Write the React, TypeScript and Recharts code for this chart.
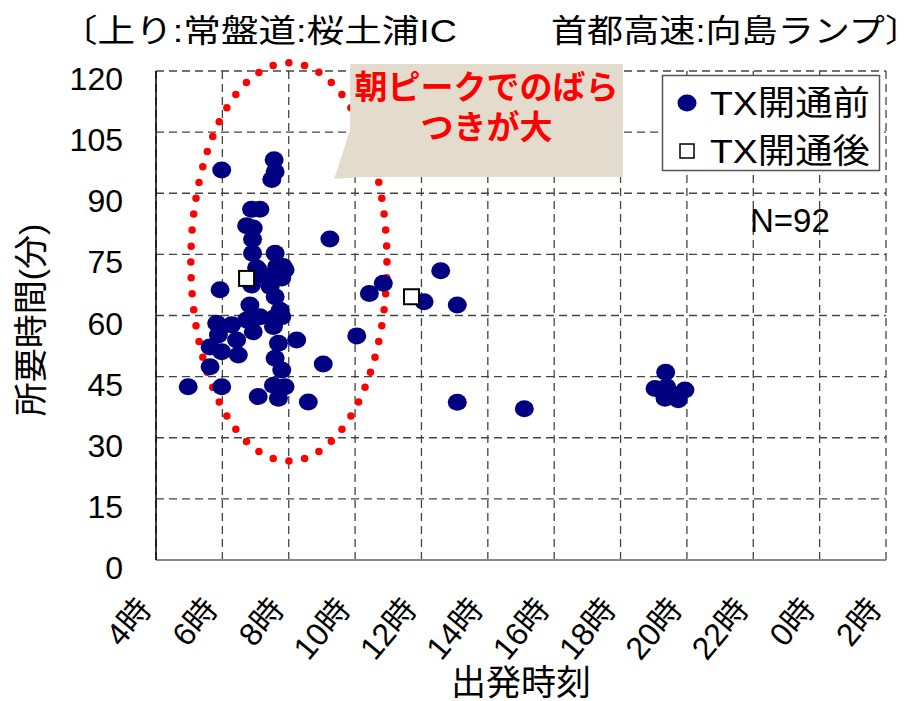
import React from 'react';
import { ScatterChart, Scatter, XAxis, YAxis, CartesianGrid, ReferenceArea } from 'recharts';

const FONT = '"Liberation Sans", "Noto Sans CJK JP", sans-serif';
const NAVY = '#000080';

const xTicks = [4, 6, 8, 10, 12, 14, 16, 18, 20, 22, 24, 26];
const yTicks = [0, 15, 30, 45, 60, 75, 90, 105, 120];

const titleLeft = '〔上り:常盤道:桜土浦IC';
const titleRight = '首都高速:向島ランプ〕';
const xLabel = '出発時刻';
const yLabel = '所要時間(分)';
const seriesBefore = 'TX開通前';
const seriesAfter = 'TX開通後';
const countLabel = 'N=92';
const calloutLines = ['朝ピークでのばら', 'つきが大'];

// departure hour (4 = 4時 ... 24 = 0時, 26 = 2時)
const beforeHour = [
  4.97, 5.98, 7.56, 7.59, 7.49, 6.88, 7.13, 6.73, 6.93, 6.91,
  6.91, 7.59, 7.03, 7.83, 7.64, 7.89, 7.74, 7.22, 6.88, 7.44,
  5.93, 7.59, 6.83, 7.74, 7.54, 7.13, 6.73, 6.28, 5.83, 6.93,
  7.54, 5.88, 6.43, 7.69, 8.24, 5.63, 5.98, 6.48, 7.59, 7.79,
  5.63, 5.98, 7.54, 7.89, 7.08, 7.69, 8.59, 9.04, 10.05, 9.24,
  10.43, 10.85, 12.08, 12.58, 13.08, 13.08, 15.1, 19.36, 19.04, 19.34,
  19.74, 19.94, 19.39, 19.53, 7.79, 7.08, 7.79,
];
// travel time in minutes
const beforeMin = [
  42.5, 95.7, 98.2, 95.3, 93.4, 86.1, 86.1, 82.0, 81.5, 78.7,
  75.3, 75.3, 71.7, 72.0, 72.0, 71.2, 69.9, 69.9, 67.5, 67.1,
  66.3, 64.6, 62.6, 61.3, 59.3, 59.7, 58.9, 57.7, 58.1, 56.0,
  57.3, 55.2, 54.0, 53.2, 54.0, 52.3, 51.1, 50.3, 49.5, 46.6,
  47.4, 42.5, 42.9, 42.5, 40.1, 39.7, 38.8, 48.1, 55.0, 78.8,
  65.4, 67.9, 63.4, 71.0, 62.6, 38.7, 37.1, 46.1, 42.1, 39.7,
  39.3, 41.7, 42.5, 40.5, 69.2, 71.2, 59.7,
];
const afterHour = [6.73, 11.7];
const afterMin = [69.1, 64.6];

// annotation extents in data units
const ellipseHours = [5.05, 10.96];
const ellipseMins = [24.3, 122.0];
const calloutHours = [9.85, 18.07];
const calloutMins = [94.0, 121.7];

const beforeData = beforeHour.map((h, i) => ({ h, m: beforeMin[i] }));
const afterData = afterHour.map((h, i) => ({ h, m: afterMin[i] }));

const fmtHour = (v: number) => `${v % 24}時`;

const Dot = (p: any) => <ellipse cx={p.cx} cy={p.cy} rx={9.5} ry={8.5} fill={NAVY} />;
const Sq = (p: any) => (
  <rect x={p.cx - 7.5} y={p.cy - 7.5} width={15} height={15} fill="#fff" stroke="#000" strokeWidth={2} />
);

const YTick = (p: any) => (
  <text x={p.x} y={p.y + 8} textAnchor="end" dominantBaseline="central" fontSize={32} fontFamily={FONT} fill="#000">
    {p.payload.value}
  </text>
);

const XTick = (p: any) => {
  const ex = p.x - 3;
  const ey = p.y + 50;
  return (
    <text x={ex} y={ey} textAnchor="end" fontSize={32} fontFamily={FONT} fill="#000" transform={`rotate(-50 ${ex} ${ey})`}>
      {fmtHour(p.payload.value)}
    </text>
  );
};

const EllipseShape = (p: any) => {
  const { x, y, width, height } = p;
  return (
    <ellipse
      cx={x + width / 2}
      cy={y + height / 2}
      rx={width / 2}
      ry={height / 2}
      fill="none"
      stroke="#ff0000"
      strokeWidth={7.5}
      strokeLinecap="round"
      strokeDasharray="0 16"
    />
  );
};

const CalloutShape = (p: any) => {
  const { x, y, width, height } = p;
  const d = `M ${x} ${y} H ${x + width} V ${y + height} H ${x + 14} L ${x - 16} ${y + height + 2} L ${x} ${y + 66} Z`;
  const cx = x + width / 2;
  return (
    <g>
      <path d={d} fill="#e3dccd" />
      <text x={cx} y={y + 35} textAnchor="middle" fontSize={33} fontWeight="bold" fontFamily={FONT} fill="#ff0000">
        {calloutLines[0]}
      </text>
      <text x={cx} y={y + 75} textAnchor="middle" fontSize={33} fontWeight="bold" fontFamily={FONT} fill="#ff0000">
        {calloutLines[1]}
      </text>
    </g>
  );
};

export default function App() {
  return (
    <div style={{ position: 'absolute', left: 0, top: 0, width: 909, height: 701, background: '#fff' }}>
      <ScatterChart width={909} height={701} margin={{ top: 71, right: 23, bottom: 0, left: 56 }}>
        <CartesianGrid stroke="#444" strokeDasharray="8 5" strokeWidth={1.3} />
        <XAxis
          type="number"
          dataKey="h"
          domain={[4, 26]}
          ticks={xTicks}
          interval={0}
          height={141}
          tickSize={0}
          tickMargin={0}
          tick={<XTick />}
          axisLine={{ stroke: '#888', strokeWidth: 2 }}
          tickLine={false}
        />
        <YAxis
          type="number"
          dataKey="m"
          domain={[0, 120]}
          ticks={yTicks}
          interval={0}
          width={100}
          tickSize={0}
          tickMargin={33}
          tick={<YTick />}
          axisLine={{ stroke: '#000', strokeWidth: 1.5 }}
          tickLine={false}
        />
        <Scatter name={seriesBefore} data={beforeData} shape={<Dot />} isAnimationActive={false} />
        <Scatter name={seriesAfter} data={afterData} shape={<Sq />} isAnimationActive={false} />
        <ReferenceArea
          x1={ellipseHours[0]}
          x2={ellipseHours[1]}
          y1={ellipseMins[0]}
          y2={ellipseMins[1]}
          ifOverflow="visible"
          shape={<EllipseShape />}
        />
        <ReferenceArea
          x1={calloutHours[0]}
          x2={calloutHours[1]}
          y1={calloutMins[0]}
          y2={calloutMins[1]}
          ifOverflow="visible"
          shape={<CalloutShape />}
        />
      </ScatterChart>
      <svg width={909} height={701} style={{ position: 'absolute', left: 0, top: 0, pointerEvents: 'none' }}>
        <text x={60} y={42} fontSize={32} fontFamily={FONT} textLength={397} lengthAdjust="spacingAndGlyphs">
          {titleLeft}
        </text>
        <text x={551} y={42} fontSize={32} fontFamily={FONT} textLength={370} lengthAdjust="spacingAndGlyphs">
          {titleRight}
        </text>
        <text x={31} y={320} fontSize={34} fontFamily={FONT} textAnchor="middle" dominantBaseline="central" transform="rotate(-90 31 320)">
          {yLabel}
        </text>
        <text x={521} y={682} fontSize={35} fontFamily={FONT} textAnchor="middle" dominantBaseline="central">
          {xLabel}
        </text>
        <rect x={662.5} y={75.5} width={217} height={95} fill="#fff" stroke="#555" strokeWidth={1.5} />
        <ellipse cx={687} cy={103} rx={9.5} ry={8.5} fill={NAVY} />
        <text x={710} y={103} fontSize={34} fontFamily={FONT} dominantBaseline="central" textLength={160} lengthAdjust="spacingAndGlyphs">
          {seriesBefore}
        </text>
        <rect x={680} y={144} width={14} height={14} fill="#fff" stroke="#000" strokeWidth={1.5} />
        <text x={710} y={151} fontSize={34} fontFamily={FONT} dominantBaseline="central" textLength={160} lengthAdjust="spacingAndGlyphs">
          {seriesAfter}
        </text>
        <text x={750} y={220} fontSize={33} fontFamily={FONT} dominantBaseline="central">
          {countLabel}
        </text>
      </svg>
    </div>
  );
}
